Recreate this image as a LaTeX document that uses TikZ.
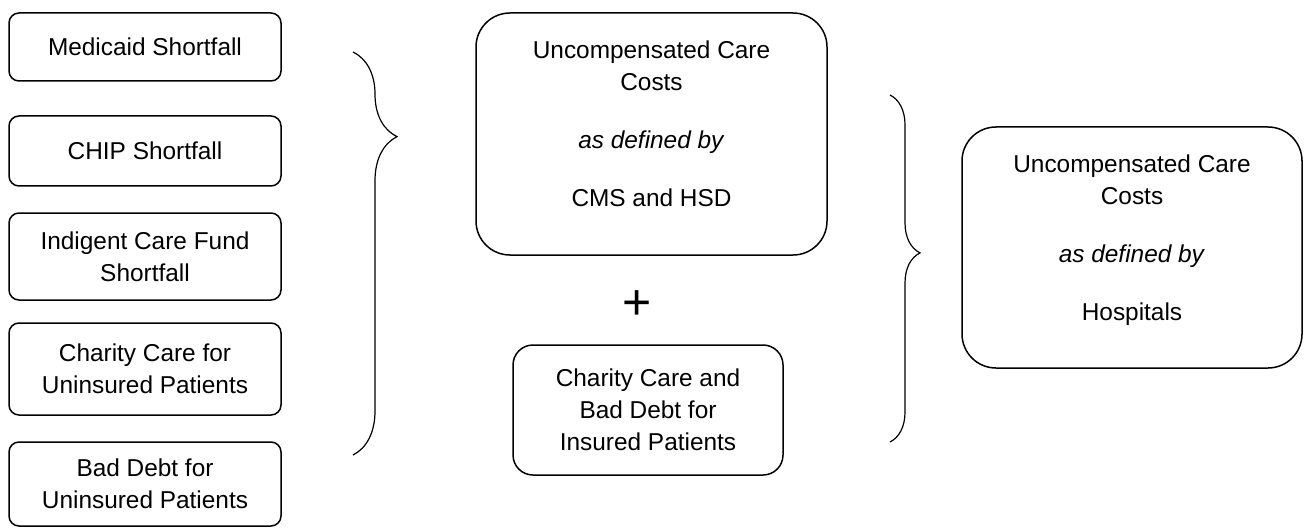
\documentclass[tikz,border=0pt]{standalone}
\usepackage{fontspec}
\setmainfont{Liberation Sans}
\usetikzlibrary{decorations.pathreplacing}

\begin{document}
\begin{tikzpicture}[x=0.5pt,y=-0.5pt,
		smallbox/.style={draw,line width=0.75pt,rounded corners=5pt,minimum width=136pt,inner sep=0pt,align=center,font=\fontsize{12.2}{16}\selectfont},
		bigbox/.style={draw,line width=0.75pt,inner sep=0pt},
		boxtext/.style={align=center,inner sep=0pt,font=\fontsize{12.2}{16}\selectfont},
		curly/.style={decorate,line width=0.6pt}]
		\useasboundingbox (0,0) rectangle (1304,529);

		% left column
		\node[smallbox,minimum height=34pt] (medicaid) at (145,47) {Medicaid Shortfall};
		\node[smallbox,minimum height=35pt] (chip) at (145,151) {CHIP Shortfall};
		\node[smallbox,minimum height=43.5pt] (indigent) at (145,256.5) {Indigent Care Fund\\Shortfall};
		\node[smallbox,minimum height=46pt] (uninscharity) at (145,369) {Charity Care for\\Uninsured Patients};
		\node[smallbox,minimum height=42pt] (uninsdebt) at (145,484) {Bad Debt for\\Uninsured Patients};

		\coordinate (lbtop) at (353,52);
		\coordinate (lbbot) at (353,455);
		\draw[curly,decoration={brace,amplitude=22pt,aspect=0.21}] (lbtop) -- (lbbot);

		% middle column
		\node[bigbox,rounded corners=17pt,minimum width=175.5pt,minimum height=121pt] (cmsbox) at (651.5,134) {};
		\node[boxtext] (cmstext) at (651.5,124) {Uncompensated Care\\Costs\\[13pt]\textit{as defined by}\\[13pt]CMS and HSD};
		\node[inner sep=0pt,font=\fontsize{25}{25}\selectfont] (plus) at (637,305) {+};
		\node[bigbox,rounded corners=10pt,minimum width=135pt,minimum height=65pt,align=center,font=\fontsize{12.2}{16}\selectfont] (insured) at (648,410) {Charity Care and\\Bad Debt for\\Insured Patients};

		\coordinate (rbtop) at (890,95);
		\coordinate (rbbot) at (890,442);
		\draw[curly,decoration={brace,amplitude=15pt,aspect=0.455}] (rbtop) -- (rbbot);

		% right column
		\node[bigbox,rounded corners=17pt,minimum width=170pt,minimum height=120.5pt] (hospbox) at (1132,247.5) {};
		\node[boxtext] (hosptext) at (1132,240) {Uncompensated Care\\Costs\\[13pt]\textit{as defined by}\\[13pt]Hospitals};
\end{tikzpicture}
\end{document}
